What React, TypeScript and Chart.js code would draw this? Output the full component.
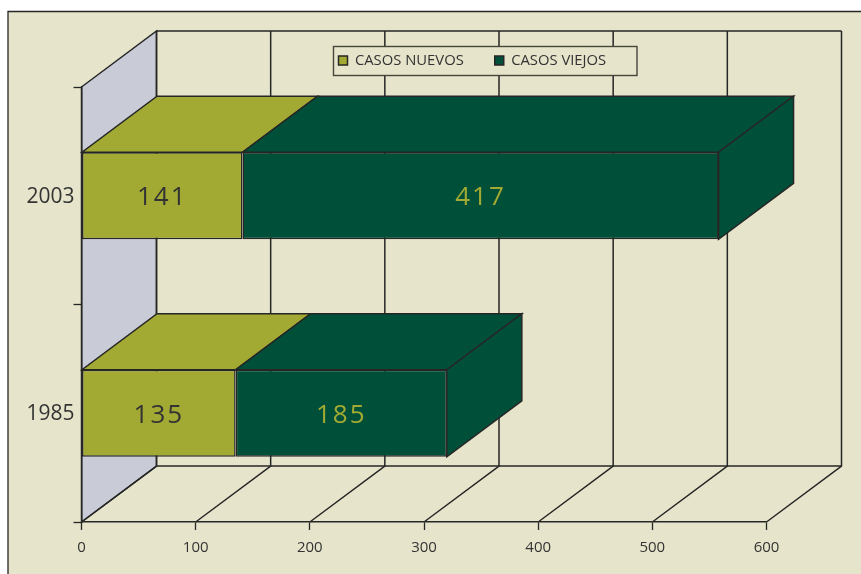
import React, { useEffect, useRef } from "react";
import { Chart, registerables } from "chart.js";

Chart.register(...registerables);

const categories = ["2003", "1985"];
const casosNuevos = [141, 135];
const casosViejos = [417, 185];
const seriesNames = ["CASOS NUEVOS", "CASOS VIEJOS"];
const axisMax = 600;
const axisStep = 100;

const OLIVE = "#a3aa33";
const GREEN = "#004f38";
const PANEL = "#e6e5cb";
const WALL = "#c9ccd6";
const LINE = "#262626";
const TEXT = "#333333";
const FONT = "'Open Sans', sans-serif";
const DEPTH_X = 75;
const DEPTH_Y = 56;

function poly(ctx: CanvasRenderingContext2D, pts: number[][], fill: string | null, stroke = LINE, lw = 1.5) {
  ctx.beginPath();
  pts.forEach((p, i) => (i ? ctx.lineTo(p[0], p[1]) : ctx.moveTo(p[0], p[1])));
  if (fill) {
    ctx.closePath();
    ctx.fillStyle = fill;
    ctx.fill();
  }
  ctx.strokeStyle = stroke;
  ctx.lineWidth = lw;
  ctx.stroke();
}

const scene3d = {
  id: "scene3d",
  afterLayout(chart: any) {
    const legend = chart.legend;
    if (legend) {
      legend.left = 307.5;
      legend.top = 22;
    }
  },
  beforeDraw(chart: any) {
    const { ctx, chartArea: a, scales } = chart;
    ctx.save();
    ctx.fillStyle = "#ffffff";
    ctx.fillRect(0, 0, chart.width, chart.height);
    ctx.fillStyle = PANEL;
    ctx.fillRect(8, 11.5, chart.width, chart.height);
    ctx.strokeStyle = LINE;
    ctx.lineWidth = 1.3;
    ctx.beginPath();
    ctx.moveTo(8, chart.height);
    ctx.lineTo(8, 11.5);
    ctx.lineTo(chart.width, 11.5);
    ctx.stroke();

    const bx = DEPTH_X;
    const by = DEPTH_Y;
    poly(ctx, [[a.left, a.top], [a.left + bx, a.top - by], [a.left + bx, a.bottom - by], [a.left, a.bottom]], WALL);
    poly(ctx, [[a.left + bx, a.top - by], [a.right + bx, a.top - by]], null);
    poly(ctx, [[a.left + bx, a.bottom - by], [a.right + bx, a.bottom - by]], null);
    for (let v = 0; v <= axisMax; v += axisStep) {
      const x = scales.x.getPixelForValue(v);
      poly(ctx, [[x + bx, a.top - by], [x + bx, a.bottom - by], [x, a.bottom]], null);
    }
    ctx.fillStyle = PANEL;
    ctx.fillRect(333.5, 46.5, 303.5, 29);
    ctx.strokeStyle = "#45453a";
    ctx.lineWidth = 1.4;
    ctx.strokeRect(333.5, 46.5, 303.5, 29);
    ctx.restore();
  },
  beforeDatasetsDraw(chart: any) {
    const { ctx } = chart;
    ctx.save();
    categories.forEach((_, j) => {
      chart.data.datasets.forEach((ds: any, i: number) => {
        const bar = chart.getDatasetMeta(i).data[j];
        const x1 = bar.base;
        const x2 = bar.x;
        const yt = bar.y - bar.height / 2;
        const yb = bar.y + bar.height / 2;
        poly(ctx, [[x1, yt], [x2, yt], [x2 + DEPTH_X, yt - DEPTH_Y], [x1 + DEPTH_X, yt - DEPTH_Y]], ds.backgroundColor);
        if (i === chart.data.datasets.length - 1) {
          poly(ctx, [[x2, yt], [x2 + DEPTH_X, yt - DEPTH_Y], [x2 + DEPTH_X, yb - DEPTH_Y], [x2, yb]], ds.backgroundColor);
        }
      });
    });
    ctx.restore();
  },
  afterDatasetsDraw(chart: any) {
    const { ctx } = chart;
    ctx.save();
    ctx.font = `26px ${FONT}`;
    (ctx as any).letterSpacing = "2px";
    ctx.textAlign = "center";
    ctx.textBaseline = "middle";
    chart.data.datasets.forEach((ds: any, i: number) => {
      ds.data.forEach((value: number, j: number) => {
        const bar = chart.getDatasetMeta(i).data[j];
        ctx.fillStyle = i === 0 ? TEXT : OLIVE;
        ctx.fillText(String(value), (bar.base + bar.x) / 2, bar.y + 2);
      });
    });
    ctx.restore();
  },
};

export default function App() {
  const ref = useRef<HTMLCanvasElement>(null);
  useEffect(() => {
    const chart = new Chart(ref.current as HTMLCanvasElement, {
      type: "bar",
      data: {
        labels: categories,
        datasets: [
          { label: seriesNames[0], data: casosNuevos, backgroundColor: OLIVE, borderColor: LINE, borderWidth: 1.5, borderSkipped: false },
          { label: seriesNames[1], data: casosViejos, backgroundColor: GREEN, borderColor: LINE, borderWidth: 1.5, borderSkipped: false },
        ],
      } as any,
      options: {
        indexAxis: "y",
        responsive: false,
        animation: false,
        devicePixelRatio: 1,
        layout: { padding: { left: 0, right: 94.5, top: 31.2, bottom: 0 } },
        datasets: { bar: { categoryPercentage: 1, barPercentage: 0.4 } },
        plugins: {
          tooltip: { enabled: false },
          legend: {
            position: "top",
            align: "start",
            fullSize: false,
            labels: {
              boxWidth: 9,
              boxHeight: 9,
              padding: 31,
              color: TEXT,
              font: { family: FONT, size: 14.8 },
            },
          },
        },
        scales: {
          x: {
            stacked: true,
            min: 0,
            max: axisMax,
            afterFit: (s: any) => { s.height = 52; },
            ticks: { stepSize: axisStep, color: TEXT, maxRotation: 0, padding: 9, font: { family: FONT, size: 15 } },
            grid: { drawOnChartArea: false, drawTicks: true, tickLength: 8, tickColor: LINE, tickWidth: 1.3 },
            border: { display: true, color: LINE, width: 1.5 },
          },
          y: {
            stacked: true,
            afterFit: (s: any) => { s.width = 81.5; },
            ticks: { color: TEXT, padding: -1, labelOffset: 1, font: { family: FONT, size: 21 } },
            grid: { drawOnChartArea: false, drawTicks: true, tickLength: 8, tickColor: LINE, tickWidth: 1.3 },
            border: { display: true, color: LINE, width: 1.5 },
          },
        },
      } as any,
      plugins: [scene3d],
    });
    return () => chart.destroy();
  }, []);
  return (
    <canvas
      ref={ref}
      width={861}
      height={574}
      style={{ position: "absolute", left: 0, top: 0, width: 861, height: 574 }}
    />
  );
}
